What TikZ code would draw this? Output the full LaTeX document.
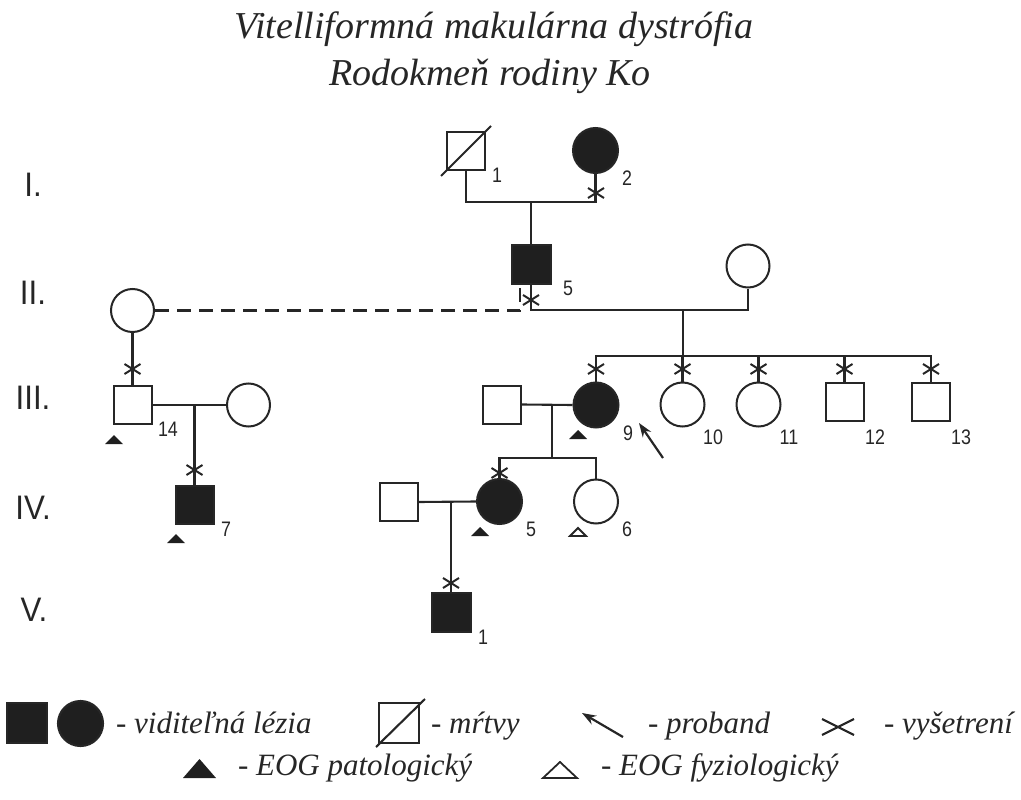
\documentclass[tikz,border=0pt]{standalone}
\usepackage{fontspec}
\setmainfont{Liberation Serif}
\newfontfamily\numfont[FakeStretch=0.85]{Liberation Sans}
\newfontfamily\genfont[FakeStretch=0.92]{Liberation Sans}
\usetikzlibrary{arrows.meta}
\begin{document}
\begin{tikzpicture}[x=1pt,y=-1pt,line width=2.1pt,color=black!85,
  male/.style={draw,rectangle,minimum size=38pt,inner sep=0pt,line width=2pt},
  female/.style={draw,circle,minimum size=44pt,inner sep=0pt,line width=2pt},
  aff/.style={fill=black!88},
  num/.style={font=\numfont\fontsize{21}{21}\selectfont,inner sep=0pt},
  gen/.style={font=\genfont\fontsize{34}{34}\selectfont,inner sep=0pt},
  ttl/.style={font=\itshape\fontsize{38}{38}\selectfont,inner sep=0pt},
  leg/.style={font=\itshape\fontsize{31}{31}\selectfont,inner sep=0pt,anchor=base west},
  xm/.pic={\draw[line width=2pt] (-8,-5)--(8,5) (-8,5)--(8,-5);},
  trif/.pic={\fill[black!88] (-9,0)--(9,0)--(0,-9)--cycle;},
  trio/.pic={\draw[line width=1.8pt,line join=miter] (-8,0)--(8,0)--(0,-8)--cycle;},
  arr/.style={-{Stealth[length=14pt,width=10pt]},line width=2.2pt}]
\useasboundingbox (0,0) rectangle (1021,800);

% title
\node[ttl,anchor=base] (t1) at (494,39) {Vitelliformná makulárna dystrófia};
\node[ttl,anchor=base] (t2) at (490,86) {Rodokmeň rodiny Ko};

% generation labels
\node[gen] (gI) at (33,185) {I.};
\node[gen] (gII) at (33,293) {II.};
\node[gen] (gIII) at (33,398) {III.};
\node[gen] (gIV) at (33,508) {IV.};
\node[gen] (gV) at (34,610) {V.};

% generation I
\node[male] (I1) at (466,151) {};
\draw (441,176) -- (491,126);
\node[female,aff,minimum size=45pt] (I2) at (595.5,150.5) {};
\node[num] (lI1) at (497,175) {1};
\node[num] (lI2) at (627,178) {2};

% generation II
\node[male,aff,minimum size=39pt] (II5) at (531,264) {};
\node[female,minimum size=43pt] (IIw) at (748,266) {};
\node[female,minimum size=43pt] (IIL) at (132.5,310.5) {};
\node[num] (lII5) at (568,288) {5};

\coordinate (m1) at (531,202);
\draw (I1.south) |- (m1) -| (I2.south);
\draw (m1) -- (II5.north);
\pic at (596,193) {xm};

\coordinate (m2) at (683,310);
\coordinate (d1) at (520,284);
\draw (II5.south) |- (m2) -| (IIw.south);
\draw[dash pattern=on 14pt off 8pt] (IIL.east) -| (d1);
\pic at (531,300) {xm};

% generation III
\coordinate (s1) at (683,356);
\draw (m2) -- (s1);
\node[female,aff,minimum size=45pt] (III9) at (596,405) {};
\node[female] (III10) at (682.5,404.5) {};
\node[female] (III11) at (758.5,404.5) {};
\node[male] (III12) at (844.5,402) {};
\node[male] (III13) at (931,402) {};
\draw (III9.north) -- (III9.north |- s1) -- (III13.north |- s1) -- (III13.north);
\draw (III10.north) -- (III10.north |- s1);
\draw (III11.north) -- (III11.north |- s1);
\draw (III12.north) -- (III12.north |- s1);
\foreach \xx in {596,682.5,758.5,844.5,931} {\pic at (\xx,369) {xm};}
\node[num] (lIII9) at (628,433) {9};
\node[num] (lIII10) at (713,437) {10};
\node[num] (lIII11) at (789,437) {11};
\node[num] (lIII12) at (875,437) {12};
\node[num] (lIII13) at (961,437) {13};
\pic at (578,439) {trif};

\node[male] (H9) at (502,404.5) {};
\draw (H9.east) -- (III9.west);
\coordinate (m3) at (552,404.5);
\coordinate (s3) at (552,458);
\draw (m3) -- (s3);

% proband arrow
\coordinate (pa) at (663,458);
\coordinate (pb) at (639,423);
\draw[arr] (pa) -- (pb);

% left family
\node[male] (III14) at (132.5,405) {};
\node[female,minimum size=43pt] (W14) at (248.5,405) {};
\draw (IIL.south) -- (III14.north);
\pic at (132.5,369) {xm};
\draw (III14.east) -- (W14.west);
\coordinate (m5) at (194.5,405);
\node[male,aff] (IV7) at (194.5,504.5) {};
\draw (m5) -- (IV7.north);
\pic at (194.5,470) {xm};
\node[num] (l14) at (168,429) {14};
\node[num] (l7) at (226,529) {7};
\pic at (114,444) {trif};
\pic at (176,543) {trif};

% generation IV
\node[female,aff,minimum size=45pt] (IV5) at (499.5,501.5) {};
\node[female] (IV6) at (596,501.5) {};
\draw (IV5.north) |- (s3) -| (IV6.north);
\pic at (499.5,473) {xm};
\node[num] (lIV5) at (531,529) {5};
\node[num] (lIV6) at (627,529) {6};
\pic at (480,536) {trif};
\pic at (578,536) {trio};

\node[male] (H5) at (398.5,502) {};
\draw (H5.east) -- (IV5.west);
\coordinate (m4) at (451,502);

% generation V
\node[male,aff,minimum size=39pt] (V1) at (451,612.5) {};
\draw (m4) -- (V1.north);
\pic at (451,583) {xm};
\node[num] (lV1) at (483,637) {1};

% legend
\node[draw,aff,rectangle,minimum size=40pt,inner sep=0pt] (kS) at (27,723) {};
\node[draw,aff,circle,minimum size=45pt,inner sep=0pt] (kC) at (80.5,723.5) {};
\node[leg] (kt1) at (115,733) {- viditeľná lézia};
\node[male,minimum size=40pt] (kD) at (399,723) {};
\draw (376,747) -- (425,699);
\node[leg] (kt2) at (430,733) {- mŕtvy};
\coordinate (ka) at (623,737);
\coordinate (kb) at (582,713);
\draw[arr] (ka) -- (kb);
\node[leg] (kt3) at (647,733) {- proband};
\draw (822,719) -- (854,735) (822,735) -- (854,719);
\node[leg] (kt4) at (883,733) {- vyšetrení};
\fill[black!88] (183,778) -- (216,778) -- (199.5,759) -- cycle;
\node[leg] (kt5) at (237,775) {- EOG patologický};
\draw[line width=1.8pt,line join=miter] (543,778) -- (577,778) -- (560,762) -- cycle;
\node[leg] (kt6) at (600,775) {- EOG fyziologický};
\end{tikzpicture}
\end{document}
